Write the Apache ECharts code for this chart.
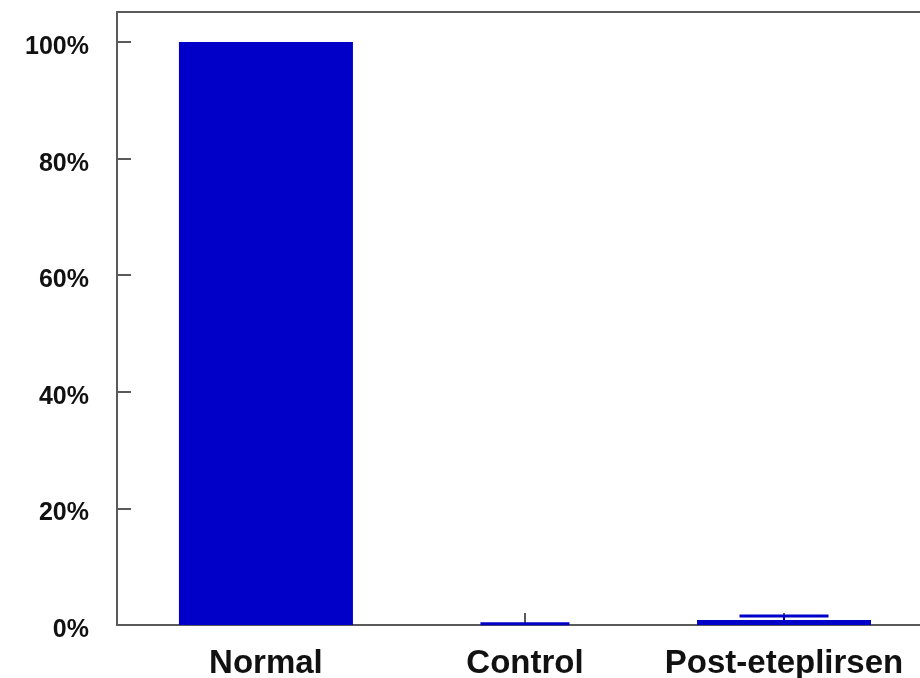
<!DOCTYPE html>
<html>
<head>
<meta charset="utf-8">
<script src="https://cdn.jsdelivr.net/npm/echarts@6/dist/echarts.min.js"></script>
<style>
  html, body { margin: 0; padding: 0; background: #fff; }
  #chart { width: 920px; height: 678px; }
</style>
</head>
<body>
<div id="chart"></div>
<script>
// Groups shown along the x axis
const categories = ['Normal', 'Control', 'Post-eteplirsen'];
// Mean level for each group, in percent of normal
const meanValues = [100, 0, 0.85];
// Upper end of each error bar, in percent (null = no error bar)
const errorUpper = [null, 0.2, 1.55];
// Y axis tick values and their labels
const yTicks = [0, 20, 40, 60, 80, 100];
const yTickLabels = ['0%', '20%', '40%', '60%', '80%', '100%'];

const positions = categories.map((_, i) => i + 1);
const barData = positions.map((x, i) => [x, meanValues[i]]);
const errData = [];
positions.forEach((x, i) => {
  if (errorUpper[i] != null) errData.push([x, meanValues[i], errorUpper[i]]);
});

const BLUE = '#0000C8';
const AXIS = '#5a5a5a';
const FONT = '"Liberation Sans", Arial, Helvetica, sans-serif';
const X_MIN = 0.425, X_MAX = 3.525;

const chart = echarts.init(document.getElementById('chart'), null, { renderer: 'canvas' });
chart.setOption({
  animation: false,
  backgroundColor: '#ffffff',
  grid: {
    left: 117, top: 12, bottom: 53, right: 0, show: false,
    outerBoundsMode: 'none', containLabel: false
  },
  xAxis: [
    {
      type: 'value',
      min: X_MIN, max: X_MAX,
      splitLine: { show: false },
      axisLine: { show: true, lineStyle: { color: AXIS, width: 2 } },
      axisTick: { show: true, inside: true, length: 12, customValues: positions,
        lineStyle: { color: AXIS, width: 2 } },
      axisLabel: {
        customValues: positions,
        formatter: v => categories[Math.round(v) - 1] || '',
        fontFamily: FONT, fontWeight: 'bold', fontSize: 33, color: '#111',
        margin: 22
      }
    },
    {
      // frame line along the top of the plot
      type: 'value', position: 'top',
      min: X_MIN, max: X_MAX,
      splitLine: { show: false },
      axisLine: { show: true, lineStyle: { color: AXIS, width: 2 } },
      axisTick: { show: false },
      axisLabel: { show: false }
    }
  ],
  yAxis: {
    type: 'value',
    min: 0, max: 105.15,
    splitLine: { show: false },
    axisLine: { show: true, lineStyle: { color: AXIS, width: 2 } },
    axisTick: { show: true, inside: true, length: 14, customValues: yTicks,
      lineStyle: { color: AXIS, width: 2 } },
    axisLabel: {
      customValues: yTicks,
      formatter: v => yTickLabels[yTicks.indexOf(v)] || '',
      fontFamily: FONT, fontWeight: 'bold', fontSize: 25, color: '#111',
      margin: 28, verticalAlign: 'top', lineHeight: 10
    }
  },
  series: [
    {
      type: 'bar',
      xAxisIndex: 0,
      data: barData,
      barWidth: 174,
      itemStyle: { color: BLUE },
      z: 3
    },
    {
      type: 'custom',
      xAxisIndex: 0,
      data: errData,
      z: 4,
      renderItem: (params, api) => {
        const x = api.value(0);
        const base = api.coord([x, api.value(1)]);
        const top = api.coord([x, api.value(2)]);
        const half = 44.5;
        return {
          type: 'group',
          children: [
            { type: 'line', shape: { x1: base[0], y1: base[1], x2: top[0], y2: top[1] },
              style: { stroke: BLUE, lineWidth: 2 } },
            { type: 'line', shape: { x1: top[0] - half, y1: top[1], x2: top[0] + half, y2: top[1] },
              style: { stroke: BLUE, lineWidth: 3 } }
          ]
        };
      }
    }
  ]
});
</script>
</body>
</html>
